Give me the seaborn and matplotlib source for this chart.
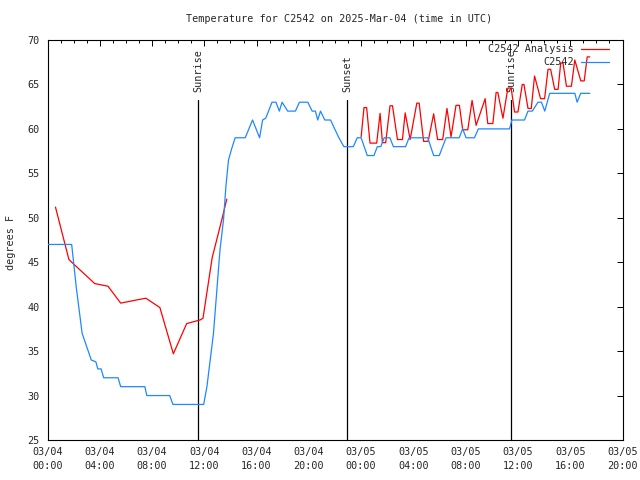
import pandas as pd
import matplotlib
matplotlib.use("Agg")
import matplotlib.pyplot as plt
import matplotlib.dates as mdates
import seaborn as sns

# hours after 2025-03-04 00:00 UTC
obs_hours = [0, 1.85, 2.2, 2.65, 3.0, 3.35, 3.7, 3.85, 4.1, 4.3, 5.4, 5.6, 7.45, 7.6,
             9.35, 9.6, 11.95, 12.2, 12.7, 13.2, 13.47, 13.65, 13.85, 14.1, 14.36, 15.13,
             15.69, 16.23, 16.46, 16.7, 17.18, 17.48, 17.74, 17.95, 18.38, 18.97, 19.28,
             19.92, 20.25, 20.5, 20.68, 20.89, 21.22, 21.66, 21.91, 22.3, 22.68, 23.4,
             23.7, 24.0, 24.47, 24.98, 25.24, 25.5, 25.76, 26.2, 26.47, 27.4, 27.67, 29.1,
             29.55, 29.98, 30.5, 31.5, 31.77, 32.03, 32.67, 32.97, 35.35, 35.54, 36.5,
             36.77, 37.1, 37.53, 37.8, 38.05, 38.43, 40.35, 40.53, 40.8, 41.5]
obs_temp = [47, 47, 42.2, 37, 35.5, 34, 33.8, 33, 33, 32, 32, 31, 31, 30,
            30, 29, 29, 31, 37, 46.4, 49.8, 53.5, 56.5, 57.8, 59, 59,
            61, 59, 61, 61.2, 63, 63, 62, 63, 62, 62, 63,
            63, 62, 62, 61, 62, 61, 61, 60.2, 59, 58, 58,
            59, 59, 57, 57, 58, 58, 59, 59, 58, 58, 59, 59,
            57, 57, 59, 59, 60, 59, 59, 60, 60, 61, 61,
            62, 62, 63, 63, 62, 64, 64, 63, 64, 64]

# analysis, first stretch (03/04 morning)
ana1_hours = [0.61, 1.64, 2.07, 3.1, 3.61, 4.63, 5.6, 6.8, 7.53, 8.6, 9.63, 10.65,
              11.67, 11.9, 12.6, 13.34, 13.72]
ana1_temp = [51.2, 45.3, 44.7, 43.3, 42.6, 42.3, 40.4, 40.75, 40.95, 39.9, 34.7, 38.1,
             38.5, 38.7, 45.5, 49.8, 52.1]

# analysis, second stretch (03/05)
ana2_hours = [24.0, 24.22, 24.42, 24.68, 25.19, 25.45, 25.63, 25.88, 26.21, 26.4, 26.78,
              27.16, 27.37, 27.75, 28.26, 28.44, 28.78, 29.13, 29.55, 29.85, 30.24,
              30.57, 30.88, 31.26, 31.52, 31.77, 32.16, 32.49, 32.8, 33.49, 33.69,
              34.08, 34.33, 34.46, 34.85, 35.23, 35.48, 35.74, 36.0, 36.33, 36.46,
              36.77, 37.02, 37.27, 37.73, 38.04, 38.3, 38.5, 38.81, 39.07, 39.27,
              39.45, 39.71, 40.09, 40.35, 40.81, 41.07, 41.3, 41.5]
ana2_temp = [59.1, 62.4, 62.4, 58.4, 58.4, 61.75, 58.45, 58.45, 62.6, 62.6, 58.8,
             58.8, 61.8, 58.8, 62.9, 62.9, 58.6, 58.6, 61.7, 58.8, 58.8,
             62.3, 59.1, 62.65, 62.65, 59.9, 59.9, 63.2, 60.4, 63.4, 60.6,
             60.6, 64.1, 64.1, 61.2, 64.6, 64.6, 61.9, 61.9, 65.0, 65.0,
             62.3, 62.3, 65.95, 63.4, 63.4, 66.7, 66.7, 64.45, 64.45, 67.4,
             67.4, 64.8, 64.8, 67.75, 65.4, 65.4, 68.1, 68.1]

sun_hours = [11.52, 22.94, 35.46]
sun_labels = ["Sunrise", "Sunset", "Sunrise"]

tick_hours = [0, 4, 8, 12, 16, 20, 24, 28, 32, 36, 40, 44]
tick_labels = ["03/04\n00:00", "03/04\n04:00", "03/04\n08:00", "03/04\n12:00",
               "03/04\n16:00", "03/04\n20:00", "03/05\n00:00", "03/05\n04:00",
               "03/05\n08:00", "03/05\n12:00", "03/05\n16:00", "03/05\n20:00"]

t0 = pd.Timestamp("2025-03-04 00:00")


def to_time(h):
    return t0 + pd.to_timedelta(pd.Series(h, dtype=float), unit="h")


obs = pd.DataFrame({"time": to_time(obs_hours), "temp": obs_temp})
ana = pd.concat([
    pd.DataFrame({"time": to_time(ana1_hours), "temp": ana1_temp, "seg": 1}),
    pd.DataFrame({"time": to_time(ana2_hours), "temp": ana2_temp, "seg": 2}),
], ignore_index=True)

sns.set_style("white")
plt.rcParams["font.family"] = ["DejaVu Sans Mono"]
plt.rcParams["font.size"] = 7.3

fig = plt.figure(figsize=(6.4, 4.8), dpi=100)
ax = fig.add_axes([47.5 / 640, 40 / 480, 575 / 640, 400 / 480])

red = "#ff0000"
blue = "#1e88ff"

# sunrise / sunset markers
for h, lab in zip(sun_hours, sun_labels):
    t = t0 + pd.Timedelta(hours=h)
    ax.plot([t, t], [25, 63.3], color="black", lw=0.9, zorder=1)
    ax.text(t, 64.1, lab, rotation=90, ha="center", va="bottom", zorder=1)

sns.lineplot(data=ana, x="time", y="temp", units="seg", estimator=None,
             color=red, lw=0.9, ax=ax, zorder=2)
sns.lineplot(data=obs, x="time", y="temp", color=blue, lw=0.9, ax=ax, zorder=3)

ax.set_xlim(t0, t0 + pd.Timedelta(hours=44))
ax.set_ylim(25, 70)
ax.set_xticks([t0 + pd.Timedelta(hours=h) for h in tick_hours], labels=tick_labels,
              linespacing=1.45)
ax.xaxis.set_minor_locator(mdates.HourLocator())
ax.set_yticks(range(25, 71, 5))
ax.set_xlabel("")
ax.set_ylabel("")

for s in ax.spines.values():
    s.set_color("black")
    s.set_linewidth(0.8)
ax.tick_params(which="both", direction="in", top=True, right=True, color="black", width=0.7)
ax.tick_params(which="major", length=4.3)
ax.tick_params(which="minor", length=2.2)
ax.tick_params(axis="x", pad=5)
ax.tick_params(axis="y", pad=5.5)

# key in the top right corner, gnuplot style
keys = [("C2542 Analysis", red, 0.9775), ("C2542", blue, 0.945)]
for txt, col, yy in keys:
    ax.text(0.916, yy, txt, transform=ax.transAxes, ha="right", va="center")
    ax.plot([0.927, 0.977], [yy, yy], transform=ax.transAxes, color=col, lw=0.9)

fig.text(339 / 640, 1 - 19 / 480, "Temperature for C2542 on 2025-Mar-04 (time in UTC)",
         ha="center", va="center")
fig.text(11 / 640, 1 - 242 / 480, "degrees F", rotation=90, ha="center", va="center")

fig.savefig("out.png", dpi=100)
